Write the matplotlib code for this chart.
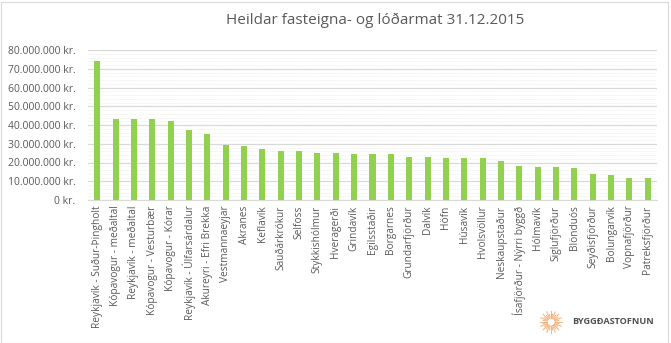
import numpy as np
import matplotlib
matplotlib.use('Agg')
from matplotlib import pyplot as plt
from matplotlib.ticker import MultipleLocator, FuncFormatter
from matplotlib.patches import Rectangle

places = [
    'Reykjavík - Suður-Þingholt', 'Kópavogur - meðaltal', 'Reykjavík - meðaltal',
    'Kópavogur - Vesturbær', 'Kópavogur - Kórar', 'Reykjavík - Úlfarsárdalur',
    'Akureyri - Efri Brekka', 'Vestmannaeyjar', 'Akranes', 'Keflavík',
    'Sauðárkrókur', 'Selfoss', 'Stykkishólmur', 'Hveragerði', 'Grindavík',
    'Egilsstaðir', 'Borgarnes', 'Grundarfjörður', 'Dalvík', 'Höfn', 'Húsavík',
    'Hvolsvöllur', 'Neskaupstaður', 'Ísafjörður - Nýrri byggð', 'Hólmavík',
    'Siglufjörður', 'Blönduós', 'Seyðisfjörður', 'Bolungarvík', 'Vopnafjörður',
    'Patreksfjörður',
]
# million kr.
valuation = [
    74.0, 43.2, 43.2, 43.2, 42.0, 37.2, 35.0, 29.3, 28.7, 27.1,
    26.1, 26.1, 25.0, 25.0, 24.5, 24.5, 24.5, 22.9, 22.9, 22.3, 22.3,
    22.3, 20.7, 18.1, 17.6, 17.6, 17.2, 13.9, 13.3, 11.7, 11.7,
]

TEXT = '#595959'
plt.rcParams['font.family'] = ['Open Sans', 'DejaVu Sans']

fig = plt.figure(figsize=(6.71, 3.43), dpi=100)
ax = fig.add_axes([88 / 671, 1 - 200 / 343, 569 / 671, 150 / 343])

x = np.arange(len(places))
ax.bar(x, np.array(valuation) * 1e6, width=0.33, color='#92d050', zorder=3)

ax.set_xlim(-0.5, len(places) - 0.5)
ax.set_ylim(0, 80e6)
ax.yaxis.set_major_locator(MultipleLocator(10e6))
ax.yaxis.set_minor_locator(MultipleLocator(2e6))


def kr(v, pos):
    return '{:,.0f} kr.'.format(v).replace(',', '.')


ax.yaxis.set_major_formatter(FuncFormatter(kr))
ax.grid(axis='y', which='major', color='#d9d9d9', linewidth=0.9, zorder=0)
ax.grid(axis='y', which='minor', color='#ececec', linewidth=0.6,
        linestyle=(0, (1, 1)), zorder=0)

ax.set_xticks(x)
ax.set_xticklabels(places, rotation=90, fontsize=7.3, color=TEXT)
ax.tick_params(axis='y', labelsize=7.5, labelcolor=TEXT, length=0, pad=9)
ax.tick_params(axis='y', which='minor', length=0)
ax.tick_params(axis='x', length=0, pad=4)
for side in ('top', 'right', 'left'):
    ax.spines[side].set_visible(False)
ax.spines['bottom'].set_color('#d9d9d9')

fig.text(375 / 671, 1 - 20 / 343, 'Heildar fasteigna- og lóðarmat 31.12.2015',
         ha='center', va='center', fontsize=11, color=TEXT)

# logo: small sun with rays plus agency name
cx, cy = 551, 322
for i, a in enumerate(np.linspace(0, 2 * np.pi, 32, endpoint=False)):
    r1, r2 = 4, (11 if i % 2 == 0 else 8)
    fig.add_artist(plt.Line2D(
        [(cx + r1 * np.cos(a)) / 671, (cx + r2 * np.cos(a)) / 671],
        [1 - (cy + r1 * np.sin(a)) / 343, 1 - (cy + r2 * np.sin(a)) / 343],
        color='#f6b27c', linewidth=0.7, transform=fig.transFigure))
fig.text(572 / 671, 1 - 322 / 343, 'BYGGÐASTOFNUN', ha='left', va='center',
         fontsize=6.6, fontweight='bold', color='#505050')

fig.add_artist(Rectangle((0.5 / 671, 0.5 / 343), 667 / 671, 341 / 343,
                         transform=fig.transFigure, fill=False,
                         edgecolor='#d9d9d9', linewidth=0.8))

plt.savefig('out.png', dpi=100)
